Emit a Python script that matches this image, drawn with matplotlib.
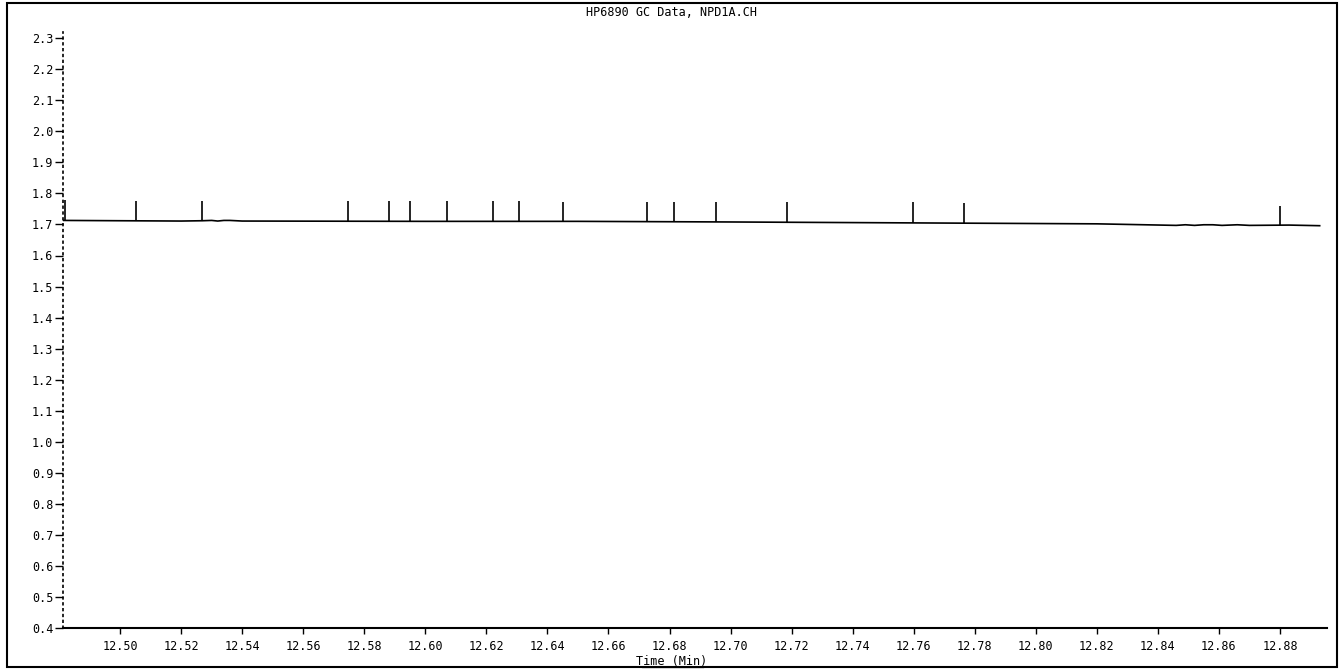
import numpy as np
import matplotlib
matplotlib.use("Agg")
import matplotlib.pyplot as plt
from matplotlib.patches import Rectangle

# baseline of the NPD trace (time in min, signal)
base_t = [12.4813, 12.500, 12.520, 12.527, 12.530, 12.532, 12.534, 12.536, 12.540,
          12.600, 12.650, 12.700, 12.740, 12.780, 12.820, 12.846, 12.849, 12.852,
          12.855, 12.858, 12.861, 12.866, 12.870, 12.883, 12.893]
base_y = [1.713, 1.712, 1.711, 1.712, 1.713, 1.711, 1.713, 1.713, 1.711,
          1.710, 1.710, 1.708, 1.706, 1.704, 1.702, 1.697, 1.699, 1.697,
          1.699, 1.699, 1.697, 1.699, 1.697, 1.698, 1.696]

# narrow spikes on the baseline
spike_t = [12.4820, 12.5052, 12.5269, 12.5747, 12.5881, 12.5950, 12.6071, 12.6222,
           12.6307, 12.6451, 12.6726, 12.6815, 12.6952, 12.7185, 12.7598, 12.7765,
           12.8800]
spike_base = [1.713, 1.712, 1.712, 1.711, 1.711, 1.710, 1.710, 1.710,
              1.710, 1.710, 1.709, 1.709, 1.708, 1.708, 1.705, 1.704,
              1.698]
spike_top = [1.778, 1.777, 1.775, 1.775, 1.775, 1.774, 1.774, 1.774,
             1.774, 1.773, 1.773, 1.773, 1.772, 1.772, 1.771, 1.768,
             1.758]

yticks = [0.4, 0.5, 0.6, 0.7, 0.8, 0.9, 1.0, 1.1, 1.2, 1.3, 1.4, 1.5, 1.6,
          1.7, 1.8, 1.9, 2.0, 2.1, 2.2, 2.3]
xticks = [12.50, 12.52, 12.54, 12.56, 12.58, 12.60, 12.62, 12.64, 12.66, 12.68,
          12.70, 12.72, 12.74, 12.76, 12.78, 12.80, 12.82, 12.84, 12.86, 12.88]

plt.rcParams['font.family'] = ['DejaVu Sans Mono']

fig = plt.figure(figsize=(13.44, 6.69), dpi=100)
ax = fig.add_axes([63/1344, 1-628/669, (1327-63)/1344, (628-32)/669])

ax.plot(base_t, base_y, color='black', lw=1.2)
ax.vlines(spike_t, spike_base, spike_top, color='black', lw=1.2)

ax.set_xlim(12.4813, 12.8954)
ax.set_ylim(0.4, 2.32)
ax.set_xticks(xticks)
ax.set_xticklabels(['%.2f' % v for v in xticks], fontsize=8.5)
ax.set_yticks(yticks)
ax.set_yticklabels(['%.1f' % v for v in yticks], fontsize=8.5)
ax.tick_params(axis='x', direction='out', length=4, width=1, pad=5)
ax.tick_params(axis='y', direction='out', length=6, width=1, pad=1)

ax.spines['top'].set_visible(False)
ax.spines['right'].set_visible(False)
ax.spines['left'].set_linestyle((0, (1, 2.5)))
ax.spines['left'].set_linewidth(1.2)
ax.spines['bottom'].set_linewidth(1.5)

fig.text(0.5, 1-12/669, 'HP6890 GC Data, NPD1A.CH', ha='center', va='center', fontsize=8.5)
xl = fig.text(672/1344, 1-661/669, 'Time (Min)', ha='center', va='center', fontsize=8.5)
fig.add_artist(plt.Line2D([642/1344, 703/1344], [1-667/669, 1-667/669],
                          color='black', lw=0.9, transform=fig.transFigure))

# outer frame around the whole printout
fig.patches.append(Rectangle((7/1344, 1-667/669), (1337-7)/1344, (667-3)/669,
                             transform=fig.transFigure, fill=False,
                             edgecolor='black', lw=1.5))

fig.savefig('out.png', dpi=100)
